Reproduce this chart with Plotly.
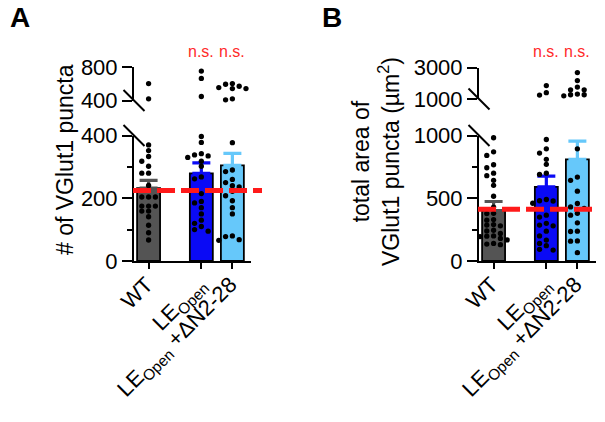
import plotly.graph_objects as go

# ---------------- data ----------------
categories = ["WT", "LE<sub>Open</sub>", "LE<sub>Open</sub> +ΔN2-28"]

A_mean = [232, 279, 305]
A_sem = [25, 34, 38]
A_ref = 225
A_wt = [602, 420, 370, 352, 333, 318, 302, 280, 280, 241, 204, 204, 204,
        175, 175, 175, 159, 159, 141, 114, 90, 67]
A_le = [751, 663, 448, 397, 378, 342, 338, 335, 330, 318, 302, 268, 262,
        215, 190, 185, 170, 150, 130, 120, 110, 100, 95]
A_dn = [602, 594, 570, 554, 542, 542, 420, 408, 377, 290, 285, 260, 250,
        240, 236, 222, 208, 192, 170, 150, 80, 78, 68, 66]

B_mean = [402, 590, 810]
B_sem = [72, 87, 145]
B_ref = 412
B_wt = [982, 870, 841, 767, 743, 700, 680, 643, 603, 516, 430, 380, 378,
        330, 325, 290, 286, 280, 245, 240, 220, 200, 198, 195, 180, 168,
        165, 140, 135, 130]
B_le = [1850, 1400, 1250, 968, 894, 860, 810, 770, 700, 690, 490, 480, 478,
        460, 365, 350, 300, 286, 280, 238, 200, 167, 140, 122, 93, 87]
B_dn = [2680, 2170, 1760, 1580, 1580, 1310, 1270, 1270, 1200, 894, 669, 643,
        556, 458, 431, 420, 380, 365, 304, 238, 235, 160, 158, 66]

A_lower_ticks = [0, 200, 400]
A_lower_minor = [100, 300]
A_upper_ticks = [400, 800]
B_lower_ticks = [0, 500, 1000]
B_lower_minor = [250, 750]
B_upper_ticks = [1000, 3000]

# ---------------- layout constants ----------------
# the page body has an 8px margin, so the figure is 8px smaller and every
# pixel position below (measured on the 605x422 window) is shifted by 8px
OFF = 8
W, H = 605 - OFF, 422 - OFF
FONT = "Liberation Sans, Arial, sans-serif"
cat_pos = [0, 1.7, 2.7]
XR = [-0.47, 3.3]
bar_fill = ["#545454", "#0a0af5", "#66c8fa"]


def px_x(x):
    return (x - OFF) / W


def px_y(y):
    return 1 - (y - OFF) / H


def xdom(l, r):
    return [px_x(l), px_x(r)]


def ydom(top, bot):
    return [px_y(bot), px_y(top)]


panels = {
    "A": dict(xd=xdom(134, 251), xd_line=xdom(133, 262),
              low=ydom(135.5, 261), up=ydom(67, 100.5),
              low_rng=[0, 400], up_rng=[400, 800],
              mean=A_mean, sem=A_sem, ref=A_ref, pts=[A_wt, A_le, A_dn],
              lt=A_lower_ticks, lm=A_lower_minor, ut=A_upper_ticks),
    "B": dict(xd=xdom(479, 596), xd_line=xdom(478, 605),
              low=ydom(135.5, 261), up=ydom(67.5, 99),
              low_rng=[0, 1000], up_rng=[1000, 3000],
              mean=B_mean, sem=B_sem, ref=B_ref, pts=[B_wt, B_le, B_dn],
              lt=B_lower_ticks, lm=B_lower_minor, ut=B_upper_ticks),
}


def swarm(vals, p, dot=4.8, step=6.8):
    """Beeswarm offsets (in x data units) for one column of dots."""
    px_per_x = (p["xd"][1] - p["xd"][0]) * W / (XR[1] - XR[0])

    def ypx(v):
        if v > p["low_rng"][1]:
            d, r = p["up"], p["up_rng"]
        else:
            d, r = p["low"], p["low_rng"]
        frac = (v - r[0]) / (r[1] - r[0])
        return (d[0] + frac * (d[1] - d[0])) * H

    placed = []
    offs = []
    order = [0]
    for i in range(1, 6):
        order += [-i, i]
    for v in vals:
        y = ypx(v)
        for k in order:
            x = k * step
            if all((x - px) ** 2 + (y - py) ** 2 >= dot ** 2 for px, py in placed):
                break
        placed.append((k * step, y))
        offs.append(k * step / px_per_x)
    return offs


fig = go.Figure()
axes = {}
idx = {"A": (1, 2, 5), "B": (3, 4, 6)}
tickfont = dict(family=FONT, size=22, color="black")

for name, p in panels.items():
    il, iu, ir = idx[name]
    xl, yl = f"x{il if il > 1 else ''}", f"y{il if il > 1 else ''}"
    xu, yu = f"x{iu}", f"y{iu}"
    xr, yr = f"x{ir}", f"y{ir}"

    # bars with upward SEM
    for i in range(3):
        fig.add_trace(go.Bar(
            x=[cat_pos[i]], y=[p["mean"][i]], width=0.74,
            marker=dict(color=bar_fill[i], line=dict(color="black", width=1.8)),
            error_y=dict(type="data", array=[p["sem"][i]], arrayminus=[0],
                         symmetric=False, color=bar_fill[i], thickness=3.2,
                         width=9),
            xaxis=xl, yaxis=yl, showlegend=False))

    # dots
    for i in range(3):
        vals = p["pts"][i]
        offs = swarm(vals, p)
        lo_x = [cat_pos[i] + o for v, o in zip(vals, offs) if v <= p["low_rng"][1]]
        lo_y = [v for v in vals if v <= p["low_rng"][1]]
        hi_x = [cat_pos[i] + o for v, o in zip(vals, offs) if v > p["low_rng"][1]]
        hi_y = [v for v in vals if v > p["low_rng"][1]]
        fig.add_trace(go.Scatter(x=lo_x, y=lo_y, mode="markers",
                                 marker=dict(color="black", size=5.3),
                                 xaxis=xl, yaxis=yl, showlegend=False,
                                 cliponaxis=False))
        fig.add_trace(go.Scatter(x=hi_x, y=hi_y, mode="markers",
                                 marker=dict(color="black", size=5.3),
                                 xaxis=xu, yaxis=yu, showlegend=False,
                                 cliponaxis=False))

    # red dashed reference line (slightly wider subplot)
    fig.add_trace(go.Scatter(x=[0, 1], y=[p["ref"], p["ref"]], mode="lines",
                             line=dict(color="#ff1a1a", width=5, dash="18px,6px"),
                             xaxis=xr, yaxis=yr, showlegend=False))

    common_y = dict(showline=True, linecolor="black", linewidth=2,
                    ticks="outside", ticklen=10, tickwidth=2, tickcolor="black",
                    showgrid=False, zeroline=False, tickfont=tickfont,
                    automargin=False)
    lkey = "xaxis" if il == 1 else f"xaxis{il}"
    lykey = "yaxis" if il == 1 else f"yaxis{il}"
    axes[lkey] = dict(domain=p["xd"], range=XR, anchor=yl,
                      tickvals=cat_pos, ticktext=categories, tickangle=-45,
                      showline=True, linecolor="black", linewidth=2,
                      ticks="outside", ticklen=6, tickwidth=2, tickcolor="black",
                      ticklabelstandoff=-6, ticklabelshift=-2,
                      showgrid=False, zeroline=False, tickfont=tickfont,
                      automargin=False)
    axes[lykey] = dict(domain=p["low"], range=p["low_rng"], anchor=xl,
                       tickvals=p["lt"],
                       minor=dict(tickvals=p["lm"], ticks="outside", ticklen=5,
                                  tickwidth=2, tickcolor="black"),
                       **common_y)
    axes[f"xaxis{iu}"] = dict(domain=p["xd"], range=XR, anchor=yu,
                              visible=False, matches=xl, automargin=False)
    axes[f"yaxis{iu}"] = dict(domain=p["up"], range=p["up_rng"], anchor=xu,
                              tickvals=p["ut"], **common_y)
    axes[f"xaxis{ir}"] = dict(domain=p["xd_line"], range=[0, 1], anchor=yr,
                              visible=False, automargin=False)
    axes[f"yaxis{ir}"] = dict(domain=p["low"], range=p["low_rng"], anchor=xr,
                              visible=False, automargin=False)

# break slashes on the y axes
shapes = []
for name, p in panels.items():
    il, iu, _ = idx[name]
    xl = "x" if il == 1 else f"x{il}"
    yl = "y" if il == 1 else f"y{il}"
    for yref, anchor in ((f"{yl} domain", 1), (f"y{iu} domain", 0)):
        shapes.append(dict(type="line", xref=f"{xl} domain", yref=yref,
                           xsizemode="pixel", ysizemode="pixel",
                           xanchor=0, yanchor=anchor,
                           x0=-10.5, x1=10.5, y0=10.5, y1=-10.5,
                           line=dict(color="black", width=2)))

annotations = [
    dict(text="<b>A</b>", x=px_x(8), y=px_y(18), xref="paper", yref="paper",
         xanchor="left", yanchor="middle", showarrow=False,
         font=dict(family=FONT, size=28, color="black")),
    dict(text="<b>B</b>", x=px_x(320), y=px_y(18), xref="paper", yref="paper",
         xanchor="left", yanchor="middle", showarrow=False,
         font=dict(family=FONT, size=28, color="black")),
    dict(text="# of VGlut1 puncta", x=px_x(65), y=px_y(160), xref="paper",
         yref="paper", textangle=-90, showarrow=False,
         xanchor="center", yanchor="middle",
         font=dict(family=FONT, size=23, color="black")),
    dict(text="total area of<br>VGlut1 puncta (µm<sup>2</sup>)", x=px_x(376),
         y=px_y(162), xref="paper", yref="paper", textangle=-90,
         showarrow=False, xanchor="center", yanchor="middle",
         font=dict(family=FONT, size=23, color="black")),
]
for xa in ("x", "x3"):
    for i in (1, 2):
        annotations.append(dict(text="n.s.", x=cat_pos[i], y=px_y(51),
                                xref=xa, yref="paper", showarrow=False,
                                xanchor="center", yanchor="middle",
                                font=dict(family=FONT, size=16,
                                          color="#ff2a2a")))

fig.update_layout(template="none", width=W, height=H,
                  margin=dict(l=0, r=0, t=0, b=0, pad=0, autoexpand=False),
                  font=dict(family=FONT, color="black"),
                  paper_bgcolor="white", plot_bgcolor="rgba(0,0,0,0)",
                  barmode="overlay", showlegend=False,
                  shapes=shapes, annotations=annotations, **axes)

fig.write_html("out.html")
